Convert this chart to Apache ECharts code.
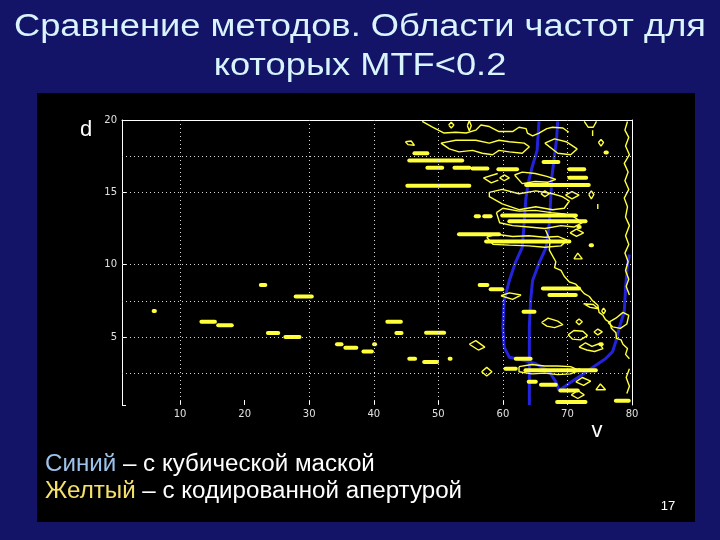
<!DOCTYPE html>
<html><head><meta charset="utf-8">
<script src="https://cdn.jsdelivr.net/npm/echarts@6/dist/echarts.min.js"></script>
<style>html,body{margin:0;padding:0;background:#131368}#c{width:720px;height:540px}</style>
</head><body><div id="c"></div>
<script>
const titleLines = ['Сравнение методов. Области частот для', 'которых MTF<0.2'];
const legendBlue = ['Синий', ' – с кубической маской'];
const legendYellow = ['Желтый', ' – с кодированной апертурой'];
const axisNameY = 'd';
const axisNameX = 'v';
const pageNumber = '17';
const xTickValues = [10, 20, 30, 40, 50, 60, 70, 80];
const yTickValues = [5, 10, 15, 20];
const gridX = [10, 30, 40, 50, 60, 70];
const gridY = [2.5, 5, 7.5, 10, 15, 17.5];

const blueCubicA = [[65.6,19.9],[65.3,17.9],[64.5,16.7],[63.9,15.6],[63.55,14.5],[63.3,12.9],[63.0,11.2],[61.9,10.1],[61.0,8.9],[60.2,7.55],[60.0,5.7],[60.2,4.3],[61.0,3.6],[62.2,3.5],[63.5,3.35],[65.1,3.15],[67.2,2.6],[68.2,1.9],[68.7,1.3],[70.3,1.8],[71.8,2.25],[74.4,3.05],[75.9,3.5],[77.0,4.0],[77.5,4.7],[78.0,5.6],[78.8,6.75],[79.0,8.35],[79.3,10.0],[79.6,10.7]];
const blueCubicB = [[68.5,19.9],[68.3,18.6],[67.9,17.2],[67.6,16.1],[67.4,14.5],[67.2,12.9],[66.7,11.2],[65.6,10.1],[64.6,8.9],[64.3,7.55],[64.1,5.7],[64.1,3.4],[64.1,0.3]];

const yellowContours = [
  [[47.5,19.9],[49.1,19.5],[50.9,19.1],[52.7,19.15],[54.3,19.1],[55.8,19.3],[56.6,19.65],[57.9,19.55],[59.4,19.2],[61.5,19.2],[62.5,19.5],[63.6,19.4],[63.8,19.1],[64.6,18.9],[65.6,19.1],[66.8,19.4],[67.7,19.5],[69.3,19.45],[70.2,19.15]],
  [[51.6,19.65],[52.0,19.85],[52.4,19.65],[52.0,19.45],[51.6,19.65]],
  [[54.5,19.6],[54.8,19.95],[55.1,19.6],[54.8,19.25],[54.5,19.6]],
  [[44.9,18.5],[45.8,18.55],[46.3,18.25],[45.3,18.3],[44.9,18.5]],
  [[50.4,18.4],[52.7,18.6],[55.8,18.6],[57.9,18.4],[59.4,18.6],[61.0,18.5],[63.3,18.4],[64.1,18.15],[63.0,17.7],[61.0,17.8],[59.4,17.9],[58.4,17.6],[56.8,17.7],[55.3,17.9],[53.2,17.8],[51.7,18.0],[50.4,18.4]],
  [[66.5,18.4],[68.0,18.7],[69.8,18.5],[71.5,18.0],[70.5,17.6],[68.5,17.7],[66.5,18.4]],
  [[72.6,19.9],[73.2,19.5],[74.0,19.5],[74.5,19.9]],
  [[73.9,19.3],[73.9,18.9]],
  [[74.8,18.45],[75.2,18.65],[75.6,18.45],[75.2,18.2],[74.8,18.45]],
  [[59.2,16.3],[57.0,16.0],[58.2,15.65],[59.3,15.85]],
  [[59.5,16.0],[60.2,16.2],[61.0,16.0],[60.2,15.8],[59.5,16.0]],
  [[61.8,16.2],[63.0,16.4],[65.0,16.3],[66.8,16.1],[68.2,15.9],[67.0,15.7],[65.0,15.75],[63.0,15.6],[61.8,16.2]],
  [[57.9,15.0],[59.9,15.2],[62.5,14.9],[65.1,15.1],[67.7,14.9],[69.2,14.7],[70.3,14.4],[69.5,13.9],[67.7,13.8],[65.1,14.0],[62.5,13.8],[59.9,14.2],[57.9,14.7],[57.9,15.0]],
  [[65.9,14.9],[66.5,15.1],[67.2,14.9],[66.5,14.7],[65.9,14.9]],
  [[69.7,14.8],[70.7,15.05],[71.8,14.8],[70.7,14.55],[69.7,14.8]],
  [[73.3,14.85],[73.7,15.1],[74.1,14.85],[73.7,14.55],[73.3,14.85]],
  [[74.7,14.2],[74.7,13.85]],
  [[59.0,13.6],[60.0,13.9],[62.5,13.7],[65.0,13.75],[67.5,13.6],[69.5,13.5],[71.0,13.3],[72.3,12.9],[71.0,12.6],[69.0,12.7],[66.5,12.5],[64.0,12.6],[61.5,12.7],[59.5,12.9],[59.0,13.6]],
  [[57.5,11.9],[59.0,12.1],[61.5,11.95],[64.0,12.0],[66.5,11.9],[68.5,11.95],[70.0,11.7],[69.0,11.3],[66.5,11.2],[64.0,11.3],[61.0,11.35],[58.5,11.4],[57.5,11.9]],
  [[70.4,12.2],[71.4,12.45],[72.5,12.2],[71.4,11.95],[70.4,12.2]],
  [[71.0,10.4],[71.6,10.8],[72.3,10.4],[71.0,10.4]],
  [[79.3,19.9],[78.9,19.3],[79.5,18.8],[79.0,18.2],[79.6,17.6],[78.8,17.0],[79.4,16.4],[78.9,15.8],[79.5,15.2],[78.8,14.6],[79.3,14.0],[79.0,13.3],[79.6,12.7],[79.0,12.0],[79.5,11.4],[78.9,10.8],[79.4,10.2],[79.0,9.6],[79.5,9.0],[79.1,8.5],[79.6,7.9]],
  [[66.6,12.4],[67.3,11.7],[67.2,11.0],[68.2,10.2],[68.0,9.8],[69.0,9.6],[69.5,9.2],[70.3,8.8],[71.3,8.65],[72.0,8.3],[72.6,8.0],[73.4,7.8],[73.9,7.5],[74.7,7.2],[74.9,6.7],[75.5,6.5],[75.9,6.2],[76.6,6.0],[76.8,5.6],[77.5,5.3],[77.6,4.9],[78.3,4.8],[78.6,4.5],[79.3,4.2],[79.0,3.8],[79.6,3.5]],
  [[76.3,6.0],[77.5,6.3],[78.6,6.7],[79.5,6.5],[79.2,5.9],[78.2,5.6],[77.0,5.7],[76.3,6.0]],
  [[54.8,4.5],[55.8,4.75],[57.2,4.3],[56.2,4.1],[54.8,4.5]],
  [[56.7,2.6],[57.5,2.9],[58.3,2.6],[57.5,2.3],[56.7,2.6]],
  [[59.7,7.85],[61.0,8.05],[62.8,7.9],[61.5,7.6],[59.7,7.85]],
  [[66.0,6.0],[67.0,6.3],[68.5,6.1],[69.3,5.85],[68.0,5.65],[66.8,5.75],[66.0,6.0]],
  [[71.3,6.05],[71.8,6.25],[72.3,6.05],[71.8,5.85],[71.3,6.05]],
  [[70.1,5.15],[71.0,5.45],[72.4,5.4],[73.1,5.1],[72.0,4.8],[70.8,4.85],[70.1,5.15]],
  [[74.1,5.35],[74.7,5.55],[75.4,5.35],[74.7,5.15],[74.1,5.35]],
  [[75.3,6.8],[75.6,7.0],[75.9,6.8],[75.6,6.6],[75.3,6.8]],
  [[72.5,7.3],[73.5,7.05],[74.8,6.95],[74.0,7.25],[72.5,7.3]],
  [[71.8,4.3],[72.8,4.6],[73.8,4.35],[75.0,4.55],[75.5,4.2],[74.2,4.0],[73.0,4.1],[71.8,4.3]],
  [[71.3,1.9],[72.3,2.2],[73.6,1.95],[72.5,1.65],[71.3,1.9]],
  [[74.4,1.35],[75.1,1.75],[75.9,1.35],[74.4,1.35]],
  [[70.6,1.0],[71.6,1.3],[72.6,1.0],[71.6,0.75],[70.6,1.0]],
  [[62.5,2.95],[64.5,3.1],[66.5,3.0],[68.5,3.0],[70.5,2.95],[71.8,2.7],[70.5,2.45],[68.5,2.4],[66.5,2.5],[64.5,2.45],[62.5,2.6],[62.5,2.95]],
  [[79.6,2.8],[79.1,2.2],[79.6,1.6],[79.2,1.1]]
];

// filled yellow dashes: [xStart, xEnd, y]
const yellowBlobs = [
  [5.9,6.1,6.8],[13.3,15.4,6.05],[15.9,18.0,5.82],[22.5,23.2,8.6],[27.9,30.4,7.8],[23.6,25.2,5.27],[26.3,28.5,5.0],
  [34.3,35.0,4.5],[35.6,37.3,4.25],[38.4,39.7,4.0],[40.05,40.2,4.5],[42.1,44.2,6.05],[43.5,44.3,5.27],[48.1,50.9,5.3],
  [45.5,46.4,3.5],[47.8,49.8,3.27],[51.75,51.9,3.5],[56.4,57.6,8.6],[58.1,59.9,8.3],
  [46.3,48.3,17.7],[45.5,53.7,17.2],[48.3,50.6,16.7],[52.5,54.8,16.7],[55.3,57.6,16.65],[59.3,62.2,16.6],[45.2,54.8,15.45],
  [55.8,56.3,13.35],[57.1,58.1,13.35],[53.2,59.4,12.1],[66.3,68.6,17.1],[70.3,72.6,16.6],[70.3,72.9,16.0],[63.6,73.3,15.5],
  [59.9,71.3,13.4],[61.0,72.8,13.0],[57.4,70.3,11.6],[75.9,76.1,17.75],[71.7,71.9,12.6],[73.6,73.8,11.35],
  [66.2,71.8,8.36],[67.2,71.3,7.9],[62.0,64.3,3.5],[63.5,71.8,2.7],[71.8,74.4,2.7],[60.4,62.0,2.8],[64.0,65.1,1.9],
  [65.9,68.2,1.7],[68.9,71.6,1.3],[68.4,72.8,0.5],[77.5,79.5,0.6],[63.2,64.9,6.75],[75.1,75.3,4.5]
];

const YEL = '#ffff3c';
const BLUE = '#2323dc';
const series = [];
series.push({
  type: 'line', data: [], silent: true, z: 1,
  markLine: {
    silent: true, symbol: ['none','none'], label: {show: false},
    lineStyle: {color: '#d8d8d8', type: [1, 3], width: 1},
    emphasis: {disabled: true},
    data: gridX.map(v => ({xAxis: v})).concat(gridY.map(v => ({yAxis: v})))
  }
});
[blueCubicA, blueCubicB].forEach(c => series.push({
  type: 'line', data: c, symbol: 'none', silent: true, z: 2,
  lineStyle: {color: BLUE, width: 3}
}));
yellowContours.forEach(c => series.push({
  type: 'line', data: c, symbol: 'none', silent: true, z: 3,
  lineStyle: {color: YEL, width: 1.4}
}));
yellowBlobs.forEach(b => series.push({
  type: 'line', data: [[b[0], b[2]], [b[1], b[2]]], symbol: 'none', silent: true, z: 3,
  lineStyle: {color: YEL, width: 4, cap: 'round'}
}));

const chart = echarts.init(document.getElementById('c'), null, {renderer: 'canvas'});
const tickFont = {color: '#e0e0e0', fontSize: 10, fontFamily: 'DejaVu Sans'};
const TITLE_COLOR = '#d8f4ff';
chart.setOption({
  backgroundColor: '#131368',
  animation: false,
  grid: {left: 122, right: 88, top: 120, bottom: 135},
  xAxis: [
    {type: 'value', min: 1, max: 80, splitNumber: 8, position: 'bottom',
     axisLine: {show: false},
     axisTick: {show: true, inside: true, length: 5, lineStyle: {color: '#ffffff'}},
     axisLabel: Object.assign({margin: 4, formatter: v => xTickValues.includes(v) ? String(v) : ''}, tickFont),
     splitLine: {show: false}},
    {type: 'value', min: 1, max: 80, position: 'top',
     axisLine: {show: true, lineStyle: {color: '#ffffff', width: 1}},
     axisTick: {show: false}, axisLabel: {show: false}, splitLine: {show: false}}
  ],
  yAxis: [
    {type: 'value', min: 0.3, max: 20, splitNumber: 4, position: 'left',
     axisLine: {show: true, lineStyle: {color: '#ffffff', width: 1}},
     axisTick: {show: true, inside: true, length: 4, lineStyle: {color: '#ffffff'}},
     axisLabel: Object.assign({margin: 5, formatter: v => yTickValues.includes(v) ? String(v) : ''}, tickFont),
     splitLine: {show: false}},
    {type: 'value', min: 0.3, max: 20, position: 'right',
     axisLine: {show: true, lineStyle: {color: '#ffffff', width: 1}},
     axisTick: {show: false}, axisLabel: {show: false}, splitLine: {show: false}}
  ],
  series: series,
  graphic: [
    {type: 'rect', z: -10, shape: {x: 37, y: 93, width: 658, height: 429}, style: {fill: '#000000'}},
    {type: 'text', x: 360, y: 27, scaleX: 1.17, style: {text: titleLines[0], fill: TITLE_COLOR, font: '31px "Liberation Sans"', textAlign: 'center', textVerticalAlign: 'middle'}},
    {type: 'text', x: 360, y: 66, scaleX: 1.17, style: {text: titleLines[1], fill: TITLE_COLOR, font: '31px "Liberation Sans"', textAlign: 'center', textVerticalAlign: 'middle'}},
    {type: 'text', x: 86, y: 130, style: {text: axisNameY, fill: '#ffffff', font: '22px "Liberation Sans"', textAlign: 'center', textVerticalAlign: 'middle'}},
    {type: 'text', x: 597, y: 431, style: {text: axisNameX, fill: '#ffffff', font: '22px "Liberation Sans"', textAlign: 'center', textVerticalAlign: 'middle'}},
    {type: 'text', x: 45, y: 465, scaleX: 1.05, style: {text: '{c|' + legendBlue[0] + '}' + legendBlue[1], fill: '#ffffff', font: '23px "Liberation Sans"', textVerticalAlign: 'middle',
      rich: {c: {fill: '#9cc3ea', color: '#9cc3ea', font: '23px "Liberation Sans"'}}}},
    {type: 'text', x: 45, y: 492, scaleX: 1.05, style: {text: '{c|' + legendYellow[0] + '}' + legendYellow[1], fill: '#ffffff', font: '23px "Liberation Sans"', textVerticalAlign: 'middle',
      rich: {c: {fill: '#f5e06a', color: '#f5e06a', font: '23px "Liberation Sans"'}}}},
    {type: 'text', x: 668, y: 506, style: {text: pageNumber, fill: '#ffffff', font: '13px "Liberation Sans"', textAlign: 'center', textVerticalAlign: 'middle'}}
  ]
});
</script></body></html>
